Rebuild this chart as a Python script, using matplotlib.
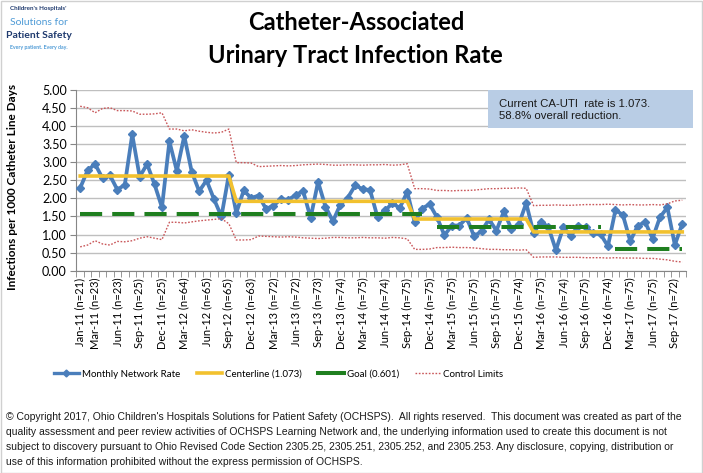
import numpy as np
import pandas as pd
import matplotlib
matplotlib.use("Agg")
import matplotlib.pyplot as plt
from matplotlib.lines import Line2D
from matplotlib.patches import Rectangle

nan = np.nan

# mois Jan-11 .. Oct-17
mois = pd.date_range("2011-01-01", periods=82, freq="MS").strftime("%b-%y").tolist()

taux_mensuel = [
    2.29, 2.78, 2.95, 2.56, 2.64, 2.24, 2.38, 3.77, 2.60, 2.95,
    2.39, 1.75, 3.58, 2.76, 3.73, 2.74, 2.20, 2.50, 1.98, 1.50,
    2.66, 1.60, 2.22, 2.01, 2.08, 1.71, 1.80, 1.98, 1.96, 2.10,
    2.20, 1.46, 2.46, 1.77, 1.37, 1.83, 2.02, 2.36, 2.26, 2.23,
    1.48, 1.67, 1.86, 1.74, 2.18, 1.34, 1.72, 1.84, 1.48, 0.98,
    1.25, 1.25, 1.46, 0.95, 1.10, 1.42, 1.11, 1.64, 1.16, 1.28,
    1.87, 1.04, 1.36, 1.20, 0.57, 1.20, 0.97, 1.23, 1.20, 1.03,
    1.01, 0.68, 1.67, 1.55, 0.82, 1.24, 1.35, 0.89, 1.48, 1.75,
    0.71, 1.30,
]

ligne_centrale = [2.62] * 21 + [1.92] * 24 + [1.43] * 16 + [1.073] * 21

objectif = [1.56] * 47 + [nan] + [1.20] * 23 + [nan] + [0.601] * 10

limite_sup = [
    4.55, 4.51, 4.37, 4.49, 4.51, 4.43, 4.43, 4.42, 4.33, 4.33,
    4.34, 4.37, 3.92, 3.92, 3.87, 3.90, 3.86, 3.83, 3.81, 3.83,
    3.92,
    2.99, 2.99, 2.98, 2.88, 2.89, 2.90, 2.91, 2.90, 2.91, 2.93,
    2.94, 2.95, 2.94, 2.92, 2.92, 2.93, 2.93, 2.92, 2.93, 2.93,
    2.94, 2.92, 2.93, 2.96,
    2.27, 2.27, 2.26, 2.22, 2.22, 2.21, 2.22, 2.22, 2.23, 2.25,
    2.27, 2.27, 2.28, 2.28, 2.29, 2.28,
    1.80, 1.81, 1.81, 1.82, 1.81, 1.81, 1.82, 1.83, 1.83, 1.83,
    1.84, 1.83, 1.82, 1.83, 1.82, 1.82, 1.83, 1.82, 1.85, 1.93,
    1.95,
]

limite_inf = [
    0.66, 0.71, 0.83, 0.74, 0.71, 0.81, 0.80, 0.83, 0.90, 0.94,
    0.90, 0.86, 1.34, 1.34, 1.32, 1.35, 1.38, 1.40, 1.42, 1.44,
    1.30,
    0.85, 0.85, 0.86, 0.96, 0.95, 0.94, 0.93, 0.94, 0.93, 0.91,
    0.90, 0.89, 0.90, 0.92, 0.92, 0.91, 0.91, 0.92, 0.91, 0.91,
    0.90, 0.92, 0.91, 0.88,
    0.59, 0.59, 0.60, 0.64, 0.64, 0.65, 0.64, 0.64, 0.63, 0.61,
    0.59, 0.59, 0.58, 0.58, 0.57, 0.58,
    0.37, 0.38, 0.38, 0.38, 0.37, 0.37, 0.37, 0.36, 0.36, 0.36,
    0.35, 0.36, 0.35, 0.35, 0.35, 0.34, 0.34, 0.32, 0.30, 0.26,
    0.24,
]

mois_etiquetes = [
    "Jan-11", "Mar-11", "Jun-11", "Sep-11", "Dec-11", "Mar-12", "Jun-12",
    "Sep-12", "Dec-12", "Mar-13", "Jun-13", "Sep-13", "Dec-13", "Mar-14",
    "Jun-14", "Sep-14", "Dec-14", "Mar-15", "Jun-15", "Sep-15", "Dec-15",
    "Mar-16", "Jun-16", "Sep-16", "Dec-16", "Mar-17", "Jun-17", "Sep-17",
]
effectifs = [
    21, 23, 23, 25, 25, 64, 65, 65, 63, 72, 72, 73, 74, 75,
    74, 75, 75, 75, 75, 75, 74, 75, 74, 75, 74, 75, 75, 72,
]

POLICE = ["Lato", "DejaVu Sans"]
POLICE_ARIAL = ["Liberation Sans", "DejaVu Sans"]
plt.rcParams["font.family"] = POLICE

BLEU = "#4a7ebb"
JAUNE = "#f2c12e"
VERT = "#1f7f1f"
ROUGE = "#c9575a"
GRIS = "#bfbfbf"


def tracer():
    fig = plt.figure(figsize=(7.03, 4.73), dpi=100)
    ax = fig.add_axes([0.1088, 0.4277, 0.867, 0.382])

    x = np.arange(len(mois))
    ax.plot(x, taux_mensuel, color=BLEU, lw=2.7, marker="D", ms=3.8, zorder=3)
    ax.plot(x, ligne_centrale, color=JAUNE, lw=2.6, zorder=4)
    ax.plot(x, objectif, color=VERT, lw=2.9, dashes=(5.5, 2.5), zorder=5)
    ax.plot(x, limite_sup, color=ROUGE, lw=1.0, ls=(0, (1.2, 1.2)), zorder=6)
    ax.plot(x, limite_inf, color=ROUGE, lw=1.0, ls=(0, (1.2, 1.2)), zorder=6)

    ax.set_xlim(-0.5, len(mois) - 0.5)
    ax.set_ylim(0, 5)
    ax.set_yticks(np.arange(0, 5.01, 0.5))
    ax.set_yticklabels([f"{v:.2f}" for v in np.arange(0, 5.01, 0.5)], fontsize=9)
    ax.yaxis.grid(True, color=GRIS, lw=1)
    ax.set_axisbelow(True)

    pos = [mois.index(m) for m in mois_etiquetes]
    etiquettes = [f"{m} (n={n})" for m, n in zip(mois_etiquetes, effectifs)]
    ax.set_xticks(pos)
    ax.set_xticklabels(etiquettes, rotation=90, fontsize=8)
    ax.set_xticks(np.arange(-0.5, len(mois)), minor=True)
    ax.tick_params(axis="x", which="major", length=0, pad=5)
    ax.tick_params(axis="x", which="minor", length=4, color="#868686")
    ax.tick_params(axis="y", length=4, color="#868686", pad=3)

    for cote in ["top", "right"]:
        ax.spines[cote].set_visible(False)
    for cote in ["left", "bottom"]:
        ax.spines[cote].set_color("#868686")

    fig.text(0.018, 0.605, "Infections per 1000 Catheter Line Days",
             rotation=90, ha="center", va="center", fontsize=8.5, weight="bold")

    # titre
    fig.text(0.507, 0.953, "Catheter-Associated", ha="center", va="center",
             fontsize=17, weight="bold")
    fig.text(0.505, 0.882, "Urinary Tract Infection Rate", ha="center",
             va="center", fontsize=17, weight="bold")

    # logo
    fig.text(0.055, 0.988, "Children's Hospitals'", ha="center", va="top",
             fontsize=4.5, weight="bold", color="#1f3a6e")
    fig.text(0.055, 0.962, "Solutions for", ha="center", va="top",
             fontsize=7.5, color="#4f9bd6")
    fig.text(0.055, 0.935, "Patient Safety", ha="center", va="top",
             fontsize=7.5, weight="bold", color="#1f3a6e")
    fig.text(0.055, 0.905, "Every patient. Every day.", ha="center", va="top",
             fontsize=3.8, weight="bold", color="#4f9bd6")

    # encadre
    fig.patches.append(Rectangle((0.694, 0.729), 0.292, 0.081,
                                 transform=fig.transFigure, facecolor="#b9cde5",
                                 edgecolor="none", zorder=10))
    fig.text(0.710, 0.768, "Current CA-UTI  rate is 1.073.\n58.8% overall reduction.",
             ha="left", va="center", fontsize=8.2, family=POLICE_ARIAL,
             color="#1a1a1a", linespacing=1.2, zorder=11)

    # legende
    poignees = [
        Line2D([], [], color=BLEU, lw=2.4, marker="D", ms=3.5, markevery=[1]),
        Line2D([], [], color=JAUNE, lw=2.6),
        Line2D([], [], color=VERT, lw=2.9),
        Line2D([], [], color=ROUGE, lw=1.0, ls=(0, (1.2, 1.2))),
    ]
    fig.legend(poignees, ["Monthly Network Rate", "Centerline (1.073)",
                          "Goal (0.601)", "Control Limits"],
               loc="center left", bbox_to_anchor=(0.064, 0.209), ncol=4,
               frameon=False, fontsize=7, handlelength=2.6,
               handletextpad=0.3, columnspacing=1.7)

    texte = (
        "\u00a9 Copyright 2017, Ohio Children's Hospitals Solutions for Patient Safety (OCHSPS).  "
        "All rights reserved.  This document was created as part of the\n"
        "quality assessment and peer review activities of OCHSPS Learning Network and, the "
        "underlying information used to create this document is not\n"
        "subject to discovery pursuant to Ohio Revised Code Section 2305.25, 2305.251, "
        "2305.252, and 2305.253. Any disclosure, copying, distribution or\n"
        "use of this information prohibited without the express permission of OCHSPS."
    )
    fig.text(0.009, 0.13, texte, ha="left", va="top", fontsize=7.5,
             family=POLICE_ARIAL, color="#1a1a1a", linespacing=1.65)

    fig.patches.append(Rectangle((0.001, 0.001), 0.997, 0.997,
                                 transform=fig.transFigure, facecolor="none",
                                 edgecolor="#d0d0d0", lw=1))

    fig.savefig("out.png", dpi=100)
    plt.close(fig)


if __name__ == "__main__":
    tracer()
